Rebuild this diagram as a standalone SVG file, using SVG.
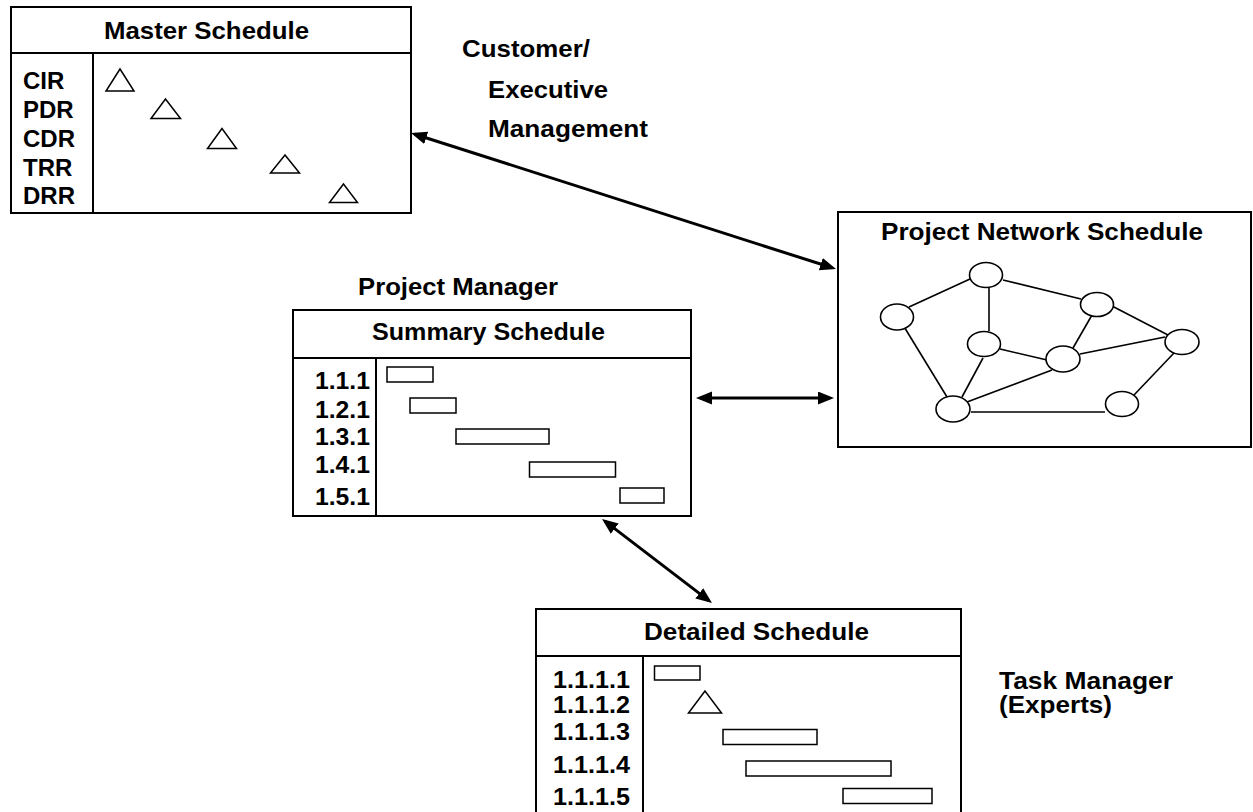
<svg xmlns="http://www.w3.org/2000/svg" width="1253" height="812" viewBox="0 0 1253 812">
<style>
text{font-family:"Liberation Sans",Arial,sans-serif;font-weight:bold;font-size:24px;fill:#000}
.box{fill:#fff;stroke:#000;stroke-width:2}
.div{stroke:#000;stroke-width:2;fill:none}
.bar{fill:#fff;stroke:#000;stroke-width:1.5}
.tri{fill:#fff;stroke:#000;stroke-width:1.5;stroke-linejoin:miter}
.edge{stroke:#000;stroke-width:1.6;fill:none}
.nd{fill:#fff;stroke:#000;stroke-width:1.6}
.conn{stroke:#000;stroke-width:3;fill:none;marker-start:url(#ah);marker-end:url(#ah)}
</style>
<defs>
<marker id="ah" markerUnits="userSpaceOnUse" markerWidth="18" markerHeight="14" refX="12" refY="6.5" orient="auto-start-reverse" viewBox="0 0 18 14">
<path d="M0,0 L16,6.5 L0,13 z" fill="#000"/>
</marker>
</defs>
<rect width="1253" height="812" fill="#fff"/>

<g id="master-schedule">
<rect class="box" x="11" y="7" width="400" height="206"/>
<line class="div" x1="11" y1="53" x2="411" y2="53"/>
<line class="div" x1="93" y1="53" x2="93" y2="213"/>
<text x="104" y="39" textLength="205" lengthAdjust="spacingAndGlyphs">Master Schedule</text>
<text x="23" y="89" font-size="25">CIR</text>
<text x="23" y="118" font-size="25">PDR</text>
<text x="23" y="147" font-size="25">CDR</text>
<text x="23" y="176" font-size="25">TRR</text>
<text x="23" y="204" font-size="25">DRR</text>
<polygon class="tri" points="120,69 106,91 134,91"/>
<polygon class="tri" points="165.5,99 151,118.5 180.5,118.5"/>
<polygon class="tri" points="222,128.5 207.5,148.5 236.5,148.5"/>
<polygon class="tri" points="285,155 270.5,173 299.5,173"/>
<polygon class="tri" points="343.5,184 329.5,202.5 357.5,202.5"/>
</g>

<g id="customer-label">
<text x="462" y="57" textLength="128" lengthAdjust="spacingAndGlyphs">Customer/</text>
<text x="488" y="98" textLength="120" lengthAdjust="spacingAndGlyphs">Executive</text>
<text x="488" y="137" textLength="160" lengthAdjust="spacingAndGlyphs">Management</text>
</g>

<g id="network-schedule">
<rect class="box" x="838" y="212" width="413" height="235"/>
<text x="881" y="240" textLength="322" lengthAdjust="spacingAndGlyphs">Project Network Schedule</text>
<g id="network-edges">
<line class="edge" x1="909" y1="307" x2="970" y2="279"/>
<line class="edge" x1="1003" y1="280" x2="1081" y2="299"/>
<line class="edge" x1="989" y1="288" x2="989" y2="331"/>
<line class="edge" x1="1092" y1="315" x2="1073" y2="348"/>
<line class="edge" x1="1112" y1="306" x2="1168" y2="335"/>
<line class="edge" x1="903" y1="325" x2="947" y2="397"/>
<line class="edge" x1="1000" y1="349" x2="1047" y2="360"/>
<line class="edge" x1="983" y1="358" x2="962" y2="397"/>
<line class="edge" x1="1080" y1="354" x2="1165" y2="337"/>
<line class="edge" x1="1052" y1="370" x2="967" y2="402"/>
<line class="edge" x1="971" y1="412" x2="1105" y2="412"/>
<line class="edge" x1="1134" y1="395" x2="1174" y2="353"/>
</g>
<ellipse class="nd" cx="986" cy="275" rx="16.5" ry="12.5"/>
<ellipse class="nd" cx="1097" cy="304.5" rx="16.5" ry="12"/>
<ellipse class="nd" cx="897" cy="317" rx="16.5" ry="13"/>
<ellipse class="nd" cx="984" cy="344" rx="16.5" ry="12.5"/>
<ellipse class="nd" cx="1063" cy="359" rx="17" ry="13"/>
<ellipse class="nd" cx="1182" cy="342" rx="17" ry="12.5"/>
<ellipse class="nd" cx="953" cy="409" rx="17" ry="13"/>
<ellipse class="nd" cx="1122" cy="404" rx="16.5" ry="12.5"/>
</g>

<g id="project-manager-label">
<text x="358" y="295" textLength="200" lengthAdjust="spacingAndGlyphs">Project Manager</text>
</g>

<g id="summary-schedule">
<rect class="box" x="293" y="310" width="398" height="206"/>
<line class="div" x1="293" y1="358" x2="691" y2="358"/>
<line class="div" x1="376" y1="358" x2="376" y2="516"/>
<text x="372" y="340" textLength="233" lengthAdjust="spacingAndGlyphs">Summary Schedule</text>
<text x="315" y="389" textLength="55" lengthAdjust="spacingAndGlyphs">1.1.1</text>
<text x="315" y="418" textLength="55" lengthAdjust="spacingAndGlyphs">1.2.1</text>
<text x="315" y="445" textLength="55" lengthAdjust="spacingAndGlyphs">1.3.1</text>
<text x="315" y="473" textLength="55" lengthAdjust="spacingAndGlyphs">1.4.1</text>
<text x="315" y="505" textLength="55" lengthAdjust="spacingAndGlyphs">1.5.1</text>
<rect class="bar" x="387" y="367" width="46" height="15"/>
<rect class="bar" x="410" y="398" width="46" height="15"/>
<rect class="bar" x="456" y="429" width="93" height="15"/>
<rect class="bar" x="529.5" y="462" width="86" height="15"/>
<rect class="bar" x="620" y="488" width="44" height="15"/>
</g>

<g id="detailed-schedule">
<rect class="box" x="536" y="609" width="425" height="230"/>
<line class="div" x1="536" y1="656" x2="961" y2="656"/>
<line class="div" x1="643" y1="656" x2="643" y2="812"/>
<text x="644" y="640" textLength="225" lengthAdjust="spacingAndGlyphs">Detailed Schedule</text>
<text x="553" y="688" textLength="77" lengthAdjust="spacingAndGlyphs">1.1.1.1</text>
<text x="553" y="713" textLength="77" lengthAdjust="spacingAndGlyphs">1.1.1.2</text>
<text x="553" y="740" textLength="77" lengthAdjust="spacingAndGlyphs">1.1.1.3</text>
<text x="553" y="773" textLength="77" lengthAdjust="spacingAndGlyphs">1.1.1.4</text>
<text x="553" y="805" textLength="77" lengthAdjust="spacingAndGlyphs">1.1.1.5</text>
<rect class="bar" x="654.5" y="666" width="45.5" height="14"/>
<polygon class="tri" points="705,691 688.5,713 721.5,713"/>
<rect class="bar" x="723" y="729.5" width="94" height="15"/>
<rect class="bar" x="746" y="761" width="145" height="15"/>
<rect class="bar" x="843" y="788.5" width="89" height="15"/>
</g>

<g id="task-manager-label">
<text x="999" y="689" font-size="23" textLength="174" lengthAdjust="spacingAndGlyphs">Task Manager</text>
<text x="999" y="713" font-size="23" textLength="113" lengthAdjust="spacingAndGlyphs">(Experts)</text>
</g>

<g id="connectors">
<line class="conn" x1="414.8" y1="134.2" x2="832.2" y2="267.8"/>
<line class="conn" x1="700" y1="398" x2="830" y2="398"/>
<line class="conn" x1="605.2" y1="521.4" x2="708.8" y2="600.6"/>
</g>
</svg>
